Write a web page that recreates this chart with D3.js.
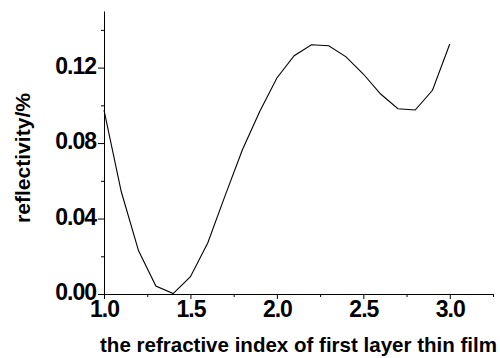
<!DOCTYPE html>
<html>
<head>
<meta charset="utf-8">
<script src="https://cdn.jsdelivr.net/npm/d3@7"></script>
<style>
  body { margin: 0; background: #fff; }
  text { font-family: Arial, "Liberation Sans", sans-serif; font-weight: bold; }
</style>
</head>
<body>
<div id="chart"></div>
<script>
// data
var refractiveIndex = [1.0, 1.1, 1.2, 1.3, 1.4, 1.5, 1.6, 1.7, 1.8, 1.9, 2.0,
                       2.1, 2.2, 2.3, 2.4, 2.5, 2.6, 2.7, 2.8, 2.9, 3.0];
var reflectivity = [0.0975, 0.0542, 0.0229, 0.0042, 0.0002, 0.0092, 0.0270, 0.0520, 0.0763, 0.0966, 0.1145,
                    0.1263, 0.1321, 0.1316, 0.1257, 0.1166, 0.1060, 0.0982, 0.0975, 0.1080, 0.1325];
var xTicks = [1.0, 1.5, 2.0, 2.5, 3.0];
var yTicks = [0.00, 0.04, 0.08, 0.12];

var margin = {top: 11, right: 7, bottom: 64, left: 104},
    width = 500 - margin.left - margin.right,
    height = 358 - margin.top - margin.bottom;

var svg = d3.select("#chart")
  .append("svg")
    .attr("width", 500)
    .attr("height", 358)
  .append("g")
    .attr("transform", "translate(" + margin.left + "," + margin.top + ")");

var x = d3.scaleLinear().domain([1.0, 3.25]).range([0, width]);
var y = d3.scaleLinear().domain([0, 0.15]).range([height, 0]);

// minor ticks
svg.append("g")
  .attr("transform", "translate(0," + height + ")")
  .call(d3.axisBottom(x).tickValues(d3.range(1.25, 3.3, 0.5)).tickSize(3).tickFormat("").tickSizeOuter(0))
  .call(g => g.select(".domain").remove());
svg.append("g")
  .call(d3.axisLeft(y).tickValues([0.02, 0.06, 0.10, 0.14]).tickSize(3).tickFormat("").tickSizeOuter(0))
  .call(g => g.select(".domain").remove());

// X axis
var xAxis = svg.append("g")
  .attr("transform", "translate(0," + height + ")")
  .call(d3.axisBottom(x).tickValues(xTicks).tickSize(5).tickSizeOuter(0).tickPadding(2).tickFormat(d3.format(".1f")));
xAxis.selectAll("text").style("font-size", "23px").attr("fill", "#000").style("letter-spacing", "-1px");

// Y axis
var yAxis = svg.append("g")
  .call(d3.axisLeft(y).tickValues(yTicks).tickSize(6).tickSizeOuter(0).tickPadding(2).tickFormat(d3.format(".2f")));
yAxis.selectAll("text").style("font-size", "23px").attr("fill", "#000").attr("dy", "0.25em").style("letter-spacing", "-1px");

svg.selectAll(".domain, .tick line").attr("stroke", "#000");

// curve
var line = d3.line()
  .x(function(d, i) { return x(refractiveIndex[i]); })
  .y(function(d) { return y(d); });

svg.append("path")
  .datum(reflectivity)
  .attr("fill", "none")
  .attr("stroke", "#000")
  .attr("stroke-width", 1.1)
  .attr("d", line);

// axis titles
svg.append("text")
  .attr("x", 100 - margin.left)
  .attr("y", height + 58)
  .attr("textLength", 397)
  .attr("lengthAdjust", "spacingAndGlyphs")
  .style("font-size", "21px")
  .text("the refractive index of first layer thin film");

svg.append("text")
  .attr("transform", "rotate(-90)")
  .attr("x", -(223 - margin.top))
  .attr("y", -margin.left + 30)
  .attr("textLength", 130)
  .attr("lengthAdjust", "spacingAndGlyphs")
  .style("font-size", "21px")
  .text("reflectivity/%");
</script>
</body>
</html>
